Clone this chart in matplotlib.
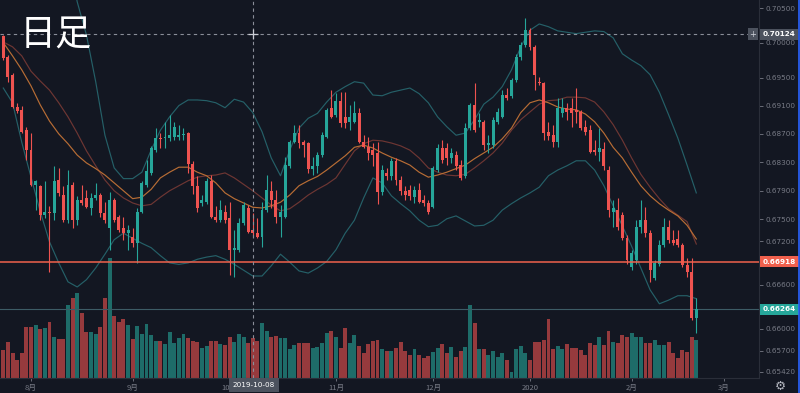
import numpy as np
import matplotlib
matplotlib.use("Agg")
import matplotlib.pyplot as plt
from matplotlib.ticker import NullLocator, NullFormatter, FixedLocator
from matplotlib.transforms import blended_transform_factory
from matplotlib.lines import Line2D

nan = float("nan")

# ---------------- data (daily candles) ----------------
opens = [0.7009, 0.6980, 0.6954, 0.6908, 0.6904, 0.6875, 0.6847, 0.6798, 0.6796, 0.6756,
         0.6761, 0.6759, 0.6805, 0.6784, 0.6749, 0.6798, 0.6749, 0.6777, 0.6780, 0.6766,
         0.6780, 0.6784, 0.6759, 0.6738, 0.6777, 0.6754, 0.6738, 0.6731, 0.6726, 0.6717,
         0.6761, 0.6798, 0.6815, 0.6847, 0.6864, 0.6864, 0.6864, 0.6866, 0.6866, 0.6868,
         0.6871, 0.6828, 0.6796, 0.6773, 0.6775, 0.6803, 0.6754, 0.6749, 0.6761, 0.6752,
         0.6708, 0.6708, 0.6745, 0.6766, 0.6735, 0.6731, 0.6726, 0.6763, 0.6789, 0.6777,
         0.6754, 0.6754, 0.6824, 0.6859, 0.6871, 0.6859, 0.6857, 0.6821, 0.6824, 0.6840,
         0.6866, 0.6906, 0.6897, 0.6916, 0.6894, 0.6887, 0.6887, 0.6899, 0.6859, 0.6852,
         0.6847, 0.6843, 0.6788, 0.6815, 0.6810, 0.6831, 0.6805, 0.6789, 0.6791, 0.6781,
         0.6791, 0.6777, 0.6773, 0.6768, 0.6819, 0.6850, 0.6850, 0.6836, 0.6840, 0.6826,
         0.6810, 0.6878, 0.6911, 0.6887, 0.6887, 0.6854, 0.6854, 0.6887, 0.6894, 0.6925,
         0.6923, 0.6947, 0.6980, 0.6997, 0.7018, 0.6994, 0.6944, 0.6942, 0.6872, 0.6868,
         0.6859, 0.6900, 0.6906, 0.6906, 0.6904, 0.6901, 0.6880, 0.6875, 0.6847, 0.6845,
         0.6849, 0.6819, 0.6761, 0.6763, 0.6756, 0.6724, 0.6685, 0.6694, 0.6740, 0.6749,
         0.6731, 0.6669, 0.6689, 0.6715, 0.6740, 0.6722, 0.6723, 0.6715, 0.6687, 0.6678,
         0.6614]
highs = [0.7011, 0.6982, 0.6957, 0.6914, 0.6909, 0.6880, 0.6871, 0.6805, 0.6798, 0.6803,
         0.6769, 0.6824, 0.6822, 0.6796, 0.6819, 0.6802, 0.6783, 0.6798, 0.6791, 0.6787,
         0.6801, 0.6787, 0.6774, 0.6788, 0.6780, 0.6756, 0.6754, 0.6742, 0.6738, 0.6766,
         0.6804, 0.6833, 0.6853, 0.6878, 0.6871, 0.6887, 0.6897, 0.6887, 0.6883, 0.6878,
         0.6873, 0.6831, 0.6810, 0.6784, 0.6808, 0.6812, 0.6769, 0.6777, 0.6770, 0.6775,
         0.6735, 0.6752, 0.6775, 0.6770, 0.6759, 0.6752, 0.6775, 0.6812, 0.6803, 0.6791,
         0.6770, 0.6838, 0.6861, 0.6883, 0.6883, 0.6861, 0.6859, 0.6838, 0.6845, 0.6873,
         0.6907, 0.6932, 0.6928, 0.6930, 0.6930, 0.6911, 0.6916, 0.6907, 0.6868, 0.6866,
         0.6857, 0.6859, 0.6826, 0.6822, 0.6836, 0.6836, 0.6811, 0.6797, 0.6798, 0.6797,
         0.6801, 0.6784, 0.6777, 0.6825, 0.6856, 0.6861, 0.6857, 0.6850, 0.6846, 0.6833,
         0.6885, 0.6914, 0.6942, 0.6900, 0.6890, 0.6868, 0.6894, 0.6907, 0.6932, 0.6935,
         0.6949, 0.6984, 0.7001, 0.7036, 0.7021, 0.6997, 0.6951, 0.6944, 0.6887, 0.6883,
         0.6921, 0.6921, 0.6914, 0.6921, 0.6935, 0.6904, 0.6890, 0.6883, 0.6861, 0.6878,
         0.6859, 0.6824, 0.6777, 0.6780, 0.6760, 0.6729, 0.6708, 0.6749, 0.6777, 0.6768,
         0.6735, 0.6694, 0.6722, 0.6752, 0.6749, 0.6735, 0.6735, 0.6717, 0.6697, 0.6697,
         0.6642]
lows = [0.6975, 0.6944, 0.6907, 0.6900, 0.6871, 0.6833, 0.6796, 0.6763, 0.6749, 0.6752,
        0.6678, 0.6749, 0.6782, 0.6747, 0.6745, 0.6738, 0.6742, 0.6770, 0.6766, 0.6756,
        0.6777, 0.6753, 0.6745, 0.6708, 0.6747, 0.6733, 0.6722, 0.6708, 0.6712, 0.6690,
        0.6759, 0.6795, 0.6812, 0.6844, 0.6850, 0.6850, 0.6860, 0.6861, 0.6861, 0.6861,
        0.6815, 0.6786, 0.6761, 0.6769, 0.6772, 0.6752, 0.6747, 0.6747, 0.6745, 0.6673,
        0.6671, 0.6705, 0.6742, 0.6731, 0.6726, 0.6724, 0.6712, 0.6761, 0.6766, 0.6745,
        0.6726, 0.6752, 0.6822, 0.6857, 0.6850, 0.6838, 0.6815, 0.6812, 0.6815, 0.6838,
        0.6864, 0.6892, 0.6894, 0.6880, 0.6878, 0.6875, 0.6885, 0.6857, 0.6850, 0.6833,
        0.6824, 0.6772, 0.6784, 0.6805, 0.6805, 0.6798, 0.6784, 0.6777, 0.6777, 0.6773,
        0.6773, 0.6769, 0.6758, 0.6766, 0.6816, 0.6829, 0.6826, 0.6829, 0.6819, 0.6805,
        0.6808, 0.6875, 0.6873, 0.6880, 0.6847, 0.6843, 0.6850, 0.6884, 0.6892, 0.6918,
        0.6921, 0.6944, 0.6975, 0.6994, 0.6990, 0.6932, 0.6940, 0.6861, 0.6861, 0.6852,
        0.6852, 0.6894, 0.6890, 0.6880, 0.6885, 0.6875, 0.6868, 0.6843, 0.6840, 0.6831,
        0.6819, 0.6754, 0.6740, 0.6735, 0.6722, 0.6689, 0.6680, 0.6689, 0.6731, 0.6726,
        0.6664, 0.6667, 0.6686, 0.6712, 0.6717, 0.6715, 0.6712, 0.6685, 0.6671, 0.6612,
        0.6594]
closes = [0.6978, 0.6951, 0.6908, 0.6903, 0.6873, 0.6847, 0.6798, 0.6803, 0.6756, 0.6761,
          0.6759, 0.6803, 0.6787, 0.6749, 0.6798, 0.6749, 0.6777, 0.6773, 0.6768, 0.6780,
          0.6784, 0.6759, 0.6749, 0.6777, 0.6749, 0.6735, 0.6731, 0.6735, 0.6717, 0.6761,
          0.6801, 0.6817, 0.6850, 0.6864, 0.6863, 0.6866, 0.6868, 0.6880, 0.6868, 0.6870,
          0.6828, 0.6796, 0.6766, 0.6777, 0.6803, 0.6754, 0.6749, 0.6763, 0.6749, 0.6708,
          0.6711, 0.6745, 0.6770, 0.6733, 0.6731, 0.6726, 0.6763, 0.6791, 0.6777, 0.6754,
          0.6761, 0.6826, 0.6859, 0.6871, 0.6857, 0.6854, 0.6821, 0.6824, 0.6840, 0.6868,
          0.6904, 0.6894, 0.6916, 0.6885, 0.6885, 0.6894, 0.6899, 0.6859, 0.6852, 0.6843,
          0.6840, 0.6788, 0.6819, 0.6810, 0.6831, 0.6805, 0.6789, 0.6784, 0.6782, 0.6791,
          0.6775, 0.6773, 0.6761, 0.6822, 0.6850, 0.6833, 0.6836, 0.6843, 0.6824, 0.6808,
          0.6878, 0.6911, 0.6875, 0.6889, 0.6854, 0.6857, 0.6890, 0.6901, 0.6925, 0.6921,
          0.6947, 0.6980, 0.6997, 0.7018, 0.6994, 0.6954, 0.6942, 0.6871, 0.6867, 0.6859,
          0.6907, 0.6907, 0.6901, 0.6900, 0.6901, 0.6878, 0.6873, 0.6845, 0.6845, 0.6850,
          0.6824, 0.6763, 0.6766, 0.6740, 0.6724, 0.6694, 0.6704, 0.6740, 0.6749, 0.6731,
          0.6680, 0.6690, 0.6715, 0.6740, 0.6722, 0.6717, 0.6715, 0.6687, 0.6678, 0.6614,
          0.66264]
volumes = [28, 36, 25, 18, 25, 51, 51, 53, 49, 50,
           56, 41, 39, 39, 73, 80, 85, 65, 46, 46,
           44, 51, 80, 120, 62, 56, 59, 53, 39, 52,
           44, 54, 43, 37, 37, 34, 46, 35, 40, 44,
           40, 37, 36, 30, 32, 37, 37, 34, 33, 41,
           36, 44, 41, 35, 40, 37, 55, 47, 41, 42,
           40, 40, 29, 33, 35, 35, 35, 30, 31, 35,
           45, 47, 41, 30, 50, 35, 43, 32, 25, 34,
           37, 38, 29, 27, 27, 30, 36, 27, 23, 29,
           23, 20, 22, 26, 30, 34, 25, 31, 21, 27,
           31, 73, 55, 29, 29, 23, 27, 21, 25, 18,
           6, 29, 32, 25, 18, 36, 36, 38, 59, 29,
           32, 29, 34, 30, 30, 28, 23, 35, 33, 41,
           33, 47, 36, 35, 43, 41, 45, 41, 41, 35,
           35, 38, 33, 33, 36, 25, 20, 28, 26, 41, 38]

# indicator lines, sampled every second bar
line_idx = list(range(0, 151, 2))
bb_upper = [nan, nan, nan, nan, nan, nan, nan, 0.7127, 0.7059, 0.7011,
            0.6944, 0.6868, 0.6822, 0.6807, 0.6807, 0.6816, 0.6847, 0.6875, 0.6894, 0.6910,
            0.6918, 0.6918, 0.6917, 0.6914, 0.6907, 0.6919, 0.6915, 0.6900, 0.6873, 0.6836,
            0.6811, 0.6847, 0.6878, 0.6892, 0.6899, 0.6915, 0.6929, 0.6937, 0.6944, 0.6942,
            0.6925, 0.6924, 0.6929, 0.6932, 0.6935, 0.6927, 0.6914, 0.6894, 0.6880, 0.6868,
            0.6871, 0.6890, 0.6912, 0.6922, 0.6937, 0.6961, 0.6994, 0.7018, 0.7027, 0.7023,
            0.7017, 0.7015, 0.7013, 0.7015, 0.7017, 0.7016, 0.7007, 0.6984, 0.6975, 0.6967,
            0.6954, 0.6929, 0.6897, 0.6864, 0.6826, 0.6787]
bb_lower = [0.6935, 0.6914, 0.6858, 0.6809, 0.6761, 0.6719, 0.6690, 0.6664, 0.6657, 0.6667,
            0.6683, 0.6702, 0.6722, 0.6731, 0.6724, 0.6717, 0.6711, 0.6700, 0.6690, 0.6688,
            0.6690, 0.6695, 0.6698, 0.6700, 0.6695, 0.6688, 0.6680, 0.6672, 0.6672, 0.6686,
            0.6702, 0.6691, 0.6679, 0.6676, 0.6683, 0.6692, 0.6708, 0.6731, 0.6749, 0.6780,
            0.6808, 0.6801, 0.6783, 0.6772, 0.6762, 0.6749, 0.6740, 0.6742, 0.6751, 0.6755,
            0.6748, 0.6741, 0.6742, 0.6749, 0.6763, 0.6772, 0.6780, 0.6787, 0.6795, 0.6811,
            0.6819, 0.6825, 0.6832, 0.6832, 0.6819, 0.6797, 0.6769, 0.6741, 0.6713, 0.6683,
            0.6653, 0.6634, 0.6639, 0.6645, 0.6645, 0.6641]
ma_fast = [0.7000, 0.6981, 0.6961, 0.6938, 0.6911, 0.6888, 0.6870, 0.6856, 0.6840, 0.6829,
           0.6821, 0.6812, 0.6801, 0.6790, 0.6779, 0.6781, 0.6792, 0.6808, 0.6816, 0.6823,
           0.6823, 0.6816, 0.6811, 0.6801, 0.6787, 0.6779, 0.6773, 0.6767, 0.6766, 0.6769,
           0.6774, 0.6784, 0.6797, 0.6804, 0.6810, 0.6819, 0.6829, 0.6839, 0.6851, 0.6854,
           0.6850, 0.6843, 0.6837, 0.6832, 0.6826, 0.6816, 0.6809, 0.6812, 0.6816, 0.6821,
           0.6826, 0.6835, 0.6843, 0.6851, 0.6863, 0.6878, 0.6900, 0.6914, 0.6918, 0.6914,
           0.6908, 0.6905, 0.6904, 0.6898, 0.6887, 0.6871, 0.6851, 0.6836, 0.6816, 0.6797,
           0.6783, 0.6772, 0.6763, 0.6755, 0.6742, 0.6723]
ma_slow = [0.7001, 0.6994, 0.6981, 0.6959, 0.6945, 0.6932, 0.6914, 0.6894, 0.6871, 0.6846,
           0.6825, 0.6805, 0.6790, 0.6780, 0.6773, 0.6769, 0.6771, 0.6781, 0.6790, 0.6797,
           0.6804, 0.6809, 0.6811, 0.6812, 0.6815, 0.6808, 0.6799, 0.6790, 0.6780, 0.6770,
           0.6762, 0.6765, 0.6774, 0.6784, 0.6792, 0.6799, 0.6808, 0.6827, 0.6846, 0.6856,
           0.6861, 0.6860, 0.6857, 0.6853, 0.6847, 0.6836, 0.6822, 0.6816, 0.6812, 0.6811,
           0.6813, 0.6822, 0.6832, 0.6843, 0.6857, 0.6875, 0.6890, 0.6901, 0.6912, 0.6917,
           0.6918, 0.6922, 0.6922, 0.6921, 0.6915, 0.6901, 0.6883, 0.6861, 0.6836, 0.6813,
           0.6795, 0.6779, 0.6765, 0.6756, 0.6747, 0.6716]

month_idx = [6, 28, 49, 72, 93, 114, 136, 156]
month_labels = ["8月", "9月", "10月", "11月", "12月", "2020", "2月", "3月"]
price_ticks = [0.705, 0.700, 0.695, 0.691, 0.687, 0.683, 0.679, 0.675, 0.672,
               0.666, 0.660, 0.657, 0.6542]
crosshair_price = 0.70124
crosshair_idx = 54
crosshair_date = "2019-10-08"
level_price = 0.66918
last_price = 0.66264
title = "日足"

# ---------------- style ----------------
BG = "#131722"
UP = "#26a69a"
DOWN = "#ef5350"
GRID = "#2a2e39"
TXT = "#787b86"
CJK = ["Noto Sans CJK JP", "DejaVu Sans"]
plt.rcParams["font.family"] = ["DejaVu Sans"]

W, H = 800, 393
fig = plt.figure(figsize=(W / 100, H / 100), dpi=100, facecolor=BG)
rect = [0, 15 / H, 759 / W, 378 / H]
axv = fig.add_axes(rect, facecolor=BG)
ax = fig.add_axes(rect, facecolor="none", sharex=axv)

o = np.array(opens); h = np.array(highs); l = np.array(lows); c = np.array(closes)
v = np.array(volumes, dtype=float)
n = len(c)
idx = np.arange(n)
up = c >= o
cols = np.where(up, UP, DOWN)

# volume overlay
axv.bar(idx[up], v[up], width=0.85, color=UP, alpha=0.6, linewidth=0)
axv.bar(idx[~up], v[~up], width=0.85, color=DOWN, alpha=0.6, linewidth=0)
axv.set_ylim(0, 378)
axv.tick_params(left=False, labelleft=False, bottom=False, labelbottom=False)
for s in axv.spines.values():
    s.set_visible(False)

# price axis
ax.set_yscale("log")
ax.set_ylim(0.65335, 0.70617)
ax.set_xlim(-0.714, 163.57)

li = np.array(line_idx)
ax.plot(li, bb_upper, color="#256068", lw=0.85, zorder=2)
ax.plot(li, bb_lower, color="#256068", lw=0.85, zorder=2)
ax.plot(li, ma_slow, color="#6e3633", lw=0.85, zorder=2)
ax.plot(li, ma_fast, color="#b86d35", lw=0.85, zorder=2)

ax.vlines(idx, l, h, colors=cols, linewidth=0.8, zorder=3)
lo = np.minimum(o, c)
hi = np.maximum(o, c)
hgt = np.maximum(hi - lo, 0.00018)
ax.bar(idx, hgt, bottom=lo - (hgt - (hi - lo)) / 2, width=0.64, color=cols,
       linewidth=0, zorder=3)

# horizontal / crosshair lines
ax.axhline(level_price, color="#f0624d", lw=1.1, zorder=4)
ax.axhline(last_price, color="#3d5c66", lw=0.8, zorder=1)
ax.axhline(crosshair_price, color="#8a8e99", lw=0.8, ls=(0, (3, 3)), zorder=4)
ax.axvline(crosshair_idx, color="#8a8e99", lw=0.8, ls=(0, (3, 3)), zorder=4)
ax.plot([crosshair_idx], [crosshair_price], marker="+", ms=7, mew=0.9,
        color="#c9ccd4", zorder=5)

# spines
for s in ["top", "left"]:
    ax.spines[s].set_visible(False)
ax.spines["right"].set_color(GRID)
ax.spines["bottom"].set_color(GRID)

# y ticks
ax.yaxis.tick_right()
ax.yaxis.set_major_locator(FixedLocator(price_ticks))
ax.yaxis.set_minor_locator(NullLocator())
ax.yaxis.set_minor_formatter(NullFormatter())
ax.set_yticklabels([f"{p:.5f}" for p in price_ticks])
ax.tick_params(axis="y", colors=TXT, labelsize=5.2, length=3, width=0.6, pad=2)

# x ticks
ax.set_xticks(month_idx)
ax.set_xticklabels(month_labels)
ax.tick_params(axis="x", colors=TXT, labelsize=5.5, length=2, width=0.6, pad=2)
for t in ax.get_xticklabels():
    t.set_fontfamily(CJK)

# price tags on the right scale
trans = blended_transform_factory(ax.transAxes, ax.transData)


def tag(price, text, fc):
    ax.text(1 + 4 / 759, price, text, transform=trans, ha="left", va="center",
            fontsize=5.2, color="white", fontweight="bold", clip_on=False, zorder=10,
            bbox=dict(boxstyle="square,pad=0.35", fc=fc, ec="none"))


tag(crosshair_price, f"{crosshair_price:.5f}", "#4c525e")
tag(level_price, f"{level_price:.5f}", "#f0604d")
tag(last_price, f"{last_price:.5f}", "#26a69a")
ax.text(1 - 6 / 759, crosshair_price, "+", transform=trans, ha="center", va="center",
        fontsize=6, color="#d1d4dc", clip_on=False, zorder=10,
        bbox=dict(boxstyle="square,pad=0.15", fc="#4c525e", ec="none"))

# crosshair date label
fig.text(254 / W, 1 - 385 / H, crosshair_date, ha="center", va="center", fontsize=5.2,
         color="white", bbox=dict(boxstyle="square,pad=0.55", fc="#4c525e", ec="none"))

# title and gear
fig.text(20 / W, 1 - 18 / H, title, ha="left", va="top", fontsize=26, color="white",
         family=CJK)
fig.text(780 / W, 1 - 386 / H, "⚙", ha="center", va="center", fontsize=9,
         color="#b2b5be", family="DejaVu Sans")
fig.add_artist(Line2D([799.3 / W, 799.3 / W], [0, 1], color="#2962ff", lw=1.2,
                      transform=fig.transFigure))

fig.savefig("out.png", dpi=100, facecolor=BG)
